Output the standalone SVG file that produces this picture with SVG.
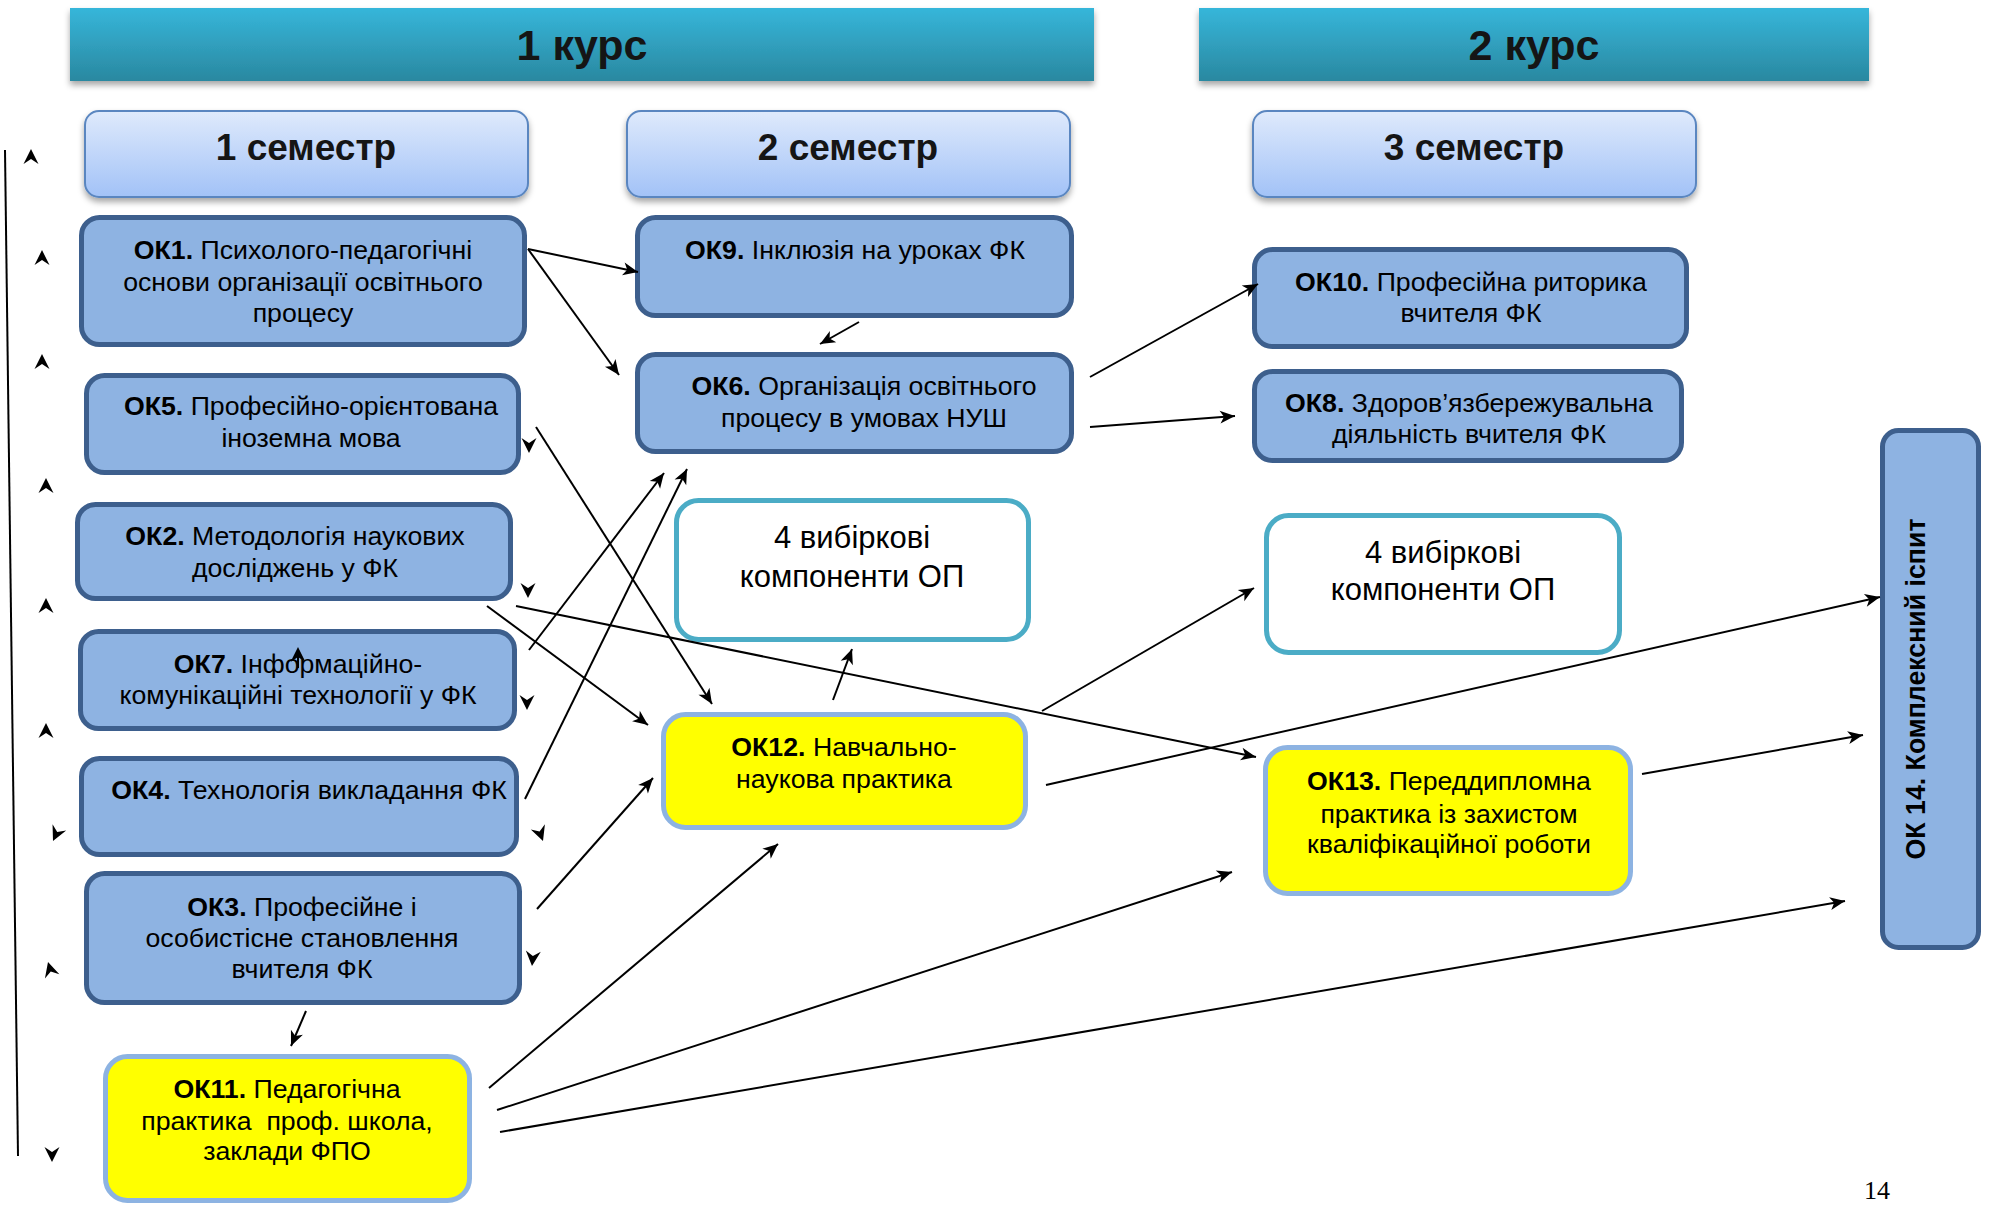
<svg xmlns="http://www.w3.org/2000/svg" xmlns:xlink="http://www.w3.org/1999/xlink" width="1992" height="1205" viewBox="0 0 1992 1205">
<style>
.t{font-family:"Liberation Sans",Arial,sans-serif;font-size:26.7px;fill:#000;text-anchor:middle}
.b{font-weight:bold}
.hd{font-family:"Liberation Sans",Arial,sans-serif;font-weight:bold;fill:#151515;text-anchor:middle}
.ok{fill:#8eb3e2;stroke:#3d5f8d;stroke-width:5}
.yl{fill:#ffff00;stroke:#8db3e2;stroke-width:5}
.wh{fill:#ffffff;stroke:#4bacc6;stroke-width:5}
.sem{fill:url(#gSem);stroke:#5a86c0;stroke-width:2;filter:url(#sh)}
.bar{fill:url(#gBar);filter:url(#sh)}
.c line{stroke:#000;stroke-width:2;marker-end:url(#arr);fill:none}
</style>
<defs>
<linearGradient id="gBar" x1="0" y1="0" x2="0" y2="1">
<stop offset="0" stop-color="#36b6da"/>
<stop offset="1" stop-color="#2a88a0"/>
</linearGradient>
<linearGradient id="gSem" x1="0" y1="0" x2="0" y2="1">
<stop offset="0" stop-color="#dfeafc"/>
<stop offset="1" stop-color="#a2c2f7"/>
</linearGradient>
<filter id="sh" x="-5%" y="-20%" width="110%" height="150%">
<feDropShadow dx="0" dy="4" stdDeviation="3" flood-color="#000" flood-opacity="0.35"/>
</filter>
<marker id="arr" markerUnits="userSpaceOnUse" markerWidth="18" markerHeight="16" viewBox="-1 -8 18 16" refX="15" refY="0" orient="auto">
<path d="M15,0 L0,-6.5 L4,0 L0,6.5 Z" fill="#000"/>
</marker>
<path id="sah" d="M0,0 L-15,-7.5 L-10,0 L-15,7.5 Z" fill="#000"/>
</defs>
<rect width="1992" height="1205" fill="#fff"/>

<g id="header-course1">
<rect class="bar" x="70" y="8" width="1024" height="73"/>
<text class="hd" x="582" y="60" font-size="43">1 курс</text>
</g>
<g id="header-course2">
<rect class="bar" x="1199" y="8" width="670" height="73"/>
<text class="hd" x="1534" y="60" font-size="43">2 курс</text>
</g>
<g id="sem1">
<rect class="sem" x="85" y="111" width="443" height="86" rx="14"/>
<text class="hd" x="306" y="160" font-size="37">1 семестр</text>
</g>
<g id="sem2">
<rect class="sem" x="627" y="111" width="443" height="86" rx="14"/>
<text class="hd" x="848" y="160" font-size="37">2 семестр</text>
</g>
<g id="sem3">
<rect class="sem" x="1253" y="111" width="443" height="86" rx="14"/>
<text class="hd" x="1474" y="160" font-size="37">3 семестр</text>
</g>

<g id="ok1">
<rect class="ok" x="81.5" y="217.5" width="443" height="127" rx="18"/>
<text class="t"><tspan x="303" y="259"><tspan class="b">ОК1.</tspan> Психолого-педагогічні</tspan><tspan x="303" y="291">основи організації освітнього</tspan><tspan x="303" y="322">процесу</tspan></text>
</g>
<g id="ok5">
<rect class="ok" x="86.5" y="375.5" width="432" height="97" rx="18"/>
<text class="t"><tspan x="311" y="415"><tspan class="b">ОК5.</tspan> Професійно-орієнтована</tspan><tspan x="311" y="447">іноземна мова</tspan></text>
</g>
<g id="ok2">
<rect class="ok" x="77.5" y="504.5" width="433" height="94" rx="18"/>
<text class="t"><tspan x="295" y="545"><tspan class="b">ОК2.</tspan> Методологія наукових</tspan><tspan x="295" y="577">досліджень у ФК</tspan></text>
</g>
<g id="ok7">
<rect class="ok" x="80.5" y="631.5" width="434" height="97" rx="18"/>
<text class="t"><tspan x="298" y="673"><tspan class="b">ОК7.</tspan> Інформаційно-</tspan><tspan x="298" y="704">комунікаційні технології у ФК</tspan></text>
</g>
<g id="ok4">
<rect class="ok" x="81.5" y="758.5" width="435" height="96" rx="18"/>
<text class="t"><tspan x="309" y="799"><tspan class="b">ОК4.</tspan> Технологія викладання ФК</tspan></text>
</g>
<g id="ok3">
<rect class="ok" x="86.5" y="873.5" width="433" height="129" rx="18"/>
<text class="t"><tspan x="302" y="916"><tspan class="b">ОК3.</tspan> Професійне і</tspan><tspan x="302" y="947">особистісне становлення</tspan><tspan x="302" y="978">вчителя ФК</tspan></text>
</g>
<g id="ok11">
<rect class="yl" x="105.5" y="1056.5" width="364" height="144" rx="22"/>
<text class="t" xml:space="preserve"><tspan x="287" y="1098"><tspan class="b">ОК11.</tspan> Педагогічна</tspan><tspan x="287" y="1130">практика  проф. школа,</tspan><tspan x="287" y="1160">заклади ФПО</tspan></text>
</g>
<g id="ok9">
<rect class="ok" x="637.5" y="217.5" width="434" height="98" rx="18"/>
<text class="t"><tspan x="855" y="259"><tspan class="b">ОК9.</tspan> Інклюзія на уроках ФК</tspan></text>
</g>
<g id="ok6">
<rect class="ok" x="637.5" y="354.5" width="434" height="97" rx="18"/>
<text class="t"><tspan x="864" y="395"><tspan class="b">ОК6.</tspan> Організація освітнього</tspan><tspan x="864" y="427">процесу в умовах НУШ</tspan></text>
</g>
<g id="elective1">
<rect class="wh" x="676.5" y="500.5" width="352" height="139" rx="22"/>
<text class="t" style="font-size:31px"><tspan x="852" y="548">4 вибіркові</tspan><tspan x="852" y="587">компоненти ОП</tspan></text>
</g>
<g id="ok12">
<rect class="yl" x="663.5" y="714.5" width="362" height="113" rx="22"/>
<text class="t"><tspan x="844" y="756"><tspan class="b">ОК12.</tspan> Навчально-</tspan><tspan x="844" y="788">наукова практика</tspan></text>
</g>
<g id="ok10">
<rect class="ok" x="1254.5" y="249.5" width="432" height="97" rx="18"/>
<text class="t"><tspan x="1471" y="291"><tspan class="b">ОК10.</tspan> Професійна риторика</tspan><tspan x="1471" y="322">вчителя ФК</tspan></text>
</g>
<g id="ok8">
<rect class="ok" x="1254.5" y="371.5" width="427" height="89" rx="18"/>
<text class="t"><tspan x="1469" y="412"><tspan class="b">ОК8.</tspan> Здоров’язбережувальна</tspan><tspan x="1469" y="443">діяльність вчителя ФК</tspan></text>
</g>
<g id="elective2">
<rect class="wh" x="1266.5" y="515.5" width="353" height="137" rx="22"/>
<text class="t" style="font-size:31px"><tspan x="1443" y="563">4 вибіркові</tspan><tspan x="1443" y="600">компоненти ОП</tspan></text>
</g>
<g id="ok13">
<rect class="yl" x="1265.5" y="747.5" width="365" height="146" rx="22"/>
<text class="t"><tspan x="1449" y="790"><tspan class="b">ОК13.</tspan> Переддипломна</tspan><tspan x="1449" y="823">практика із захистом</tspan><tspan x="1449" y="853">кваліфікаційної роботи</tspan></text>
</g>
<g id="ok14">
<rect class="ok" x="1882.5" y="430.5" width="96" height="517" rx="16"/>
<text class="t b" transform="translate(1925,689) rotate(-90)" x="0" y="0" style="font-size:28px" textLength="341" lengthAdjust="spacingAndGlyphs">ОК 14. Комплексний іспит</text>
</g>

<g id="connectors" class="c">
<line x1="528" y1="249" x2="638" y2="272"/>
<line x1="528" y1="249" x2="619" y2="375"/>
<line x1="859" y1="322" x2="820" y2="344"/>
<line x1="1090" y1="377" x2="1258" y2="284"/>
<line x1="1090" y1="427" x2="1235" y2="416"/>
<line x1="536" y1="427" x2="712" y2="704"/>
<line x1="487" y1="606" x2="648" y2="725"/>
<line x1="516" y1="606" x2="1256" y2="757"/>
<line x1="529" y1="650" x2="664" y2="473"/>
<line x1="525" y1="799" x2="687" y2="469"/>
<line x1="537" y1="909" x2="653" y2="778"/>
<line x1="306" y1="1011" x2="291" y2="1046"/>
<line x1="489" y1="1088" x2="778" y2="844"/>
<line x1="497" y1="1110" x2="1232" y2="872"/>
<line x1="500" y1="1132" x2="1845" y2="901"/>
<line x1="833" y1="700" x2="852" y2="649"/>
<line x1="1046" y1="785" x2="1880" y2="597"/>
<line x1="1042" y1="711" x2="1254" y2="588"/>
<line x1="1642" y1="774" x2="1863" y2="735"/>
</g>

<g id="left-timeline">
<line x1="5" y1="150" x2="18" y2="1156" stroke="#000" stroke-width="2"/>
<use xlink:href="#sah" transform="translate(31,149) rotate(-90)"/>
<use xlink:href="#sah" transform="translate(42,250) rotate(-90)"/>
<use xlink:href="#sah" transform="translate(42,354) rotate(-90)"/>
<use xlink:href="#sah" transform="translate(46,478) rotate(-90)"/>
<use xlink:href="#sah" transform="translate(46,598) rotate(-90)"/>
<use xlink:href="#sah" transform="translate(46,723) rotate(-90)"/>
<use xlink:href="#sah" transform="translate(53,841) rotate(115)"/>
<use xlink:href="#sah" transform="translate(48,962) rotate(-106)"/>
<use xlink:href="#sah" transform="translate(52,1162) rotate(90)"/>
</g>
<g id="stray-arrowheads">
<use xlink:href="#sah" transform="translate(529,453) rotate(90)"/>
<use xlink:href="#sah" transform="translate(528,598) rotate(90)"/>
<use xlink:href="#sah" transform="translate(527,710) rotate(90)"/>
<use xlink:href="#sah" transform="translate(543,841) rotate(70)"/>
<use xlink:href="#sah" transform="translate(532,966) rotate(95)"/>
<use xlink:href="#sah" transform="translate(298,647) rotate(-90)"/>
<line x1="298" y1="655" x2="298" y2="668" stroke="#000" stroke-width="2"/>
</g>

<text id="page-number" x="1877" y="1199" font-family="Liberation Serif, Times New Roman, serif" font-size="26" text-anchor="middle" fill="#000">14</text>
</svg>
